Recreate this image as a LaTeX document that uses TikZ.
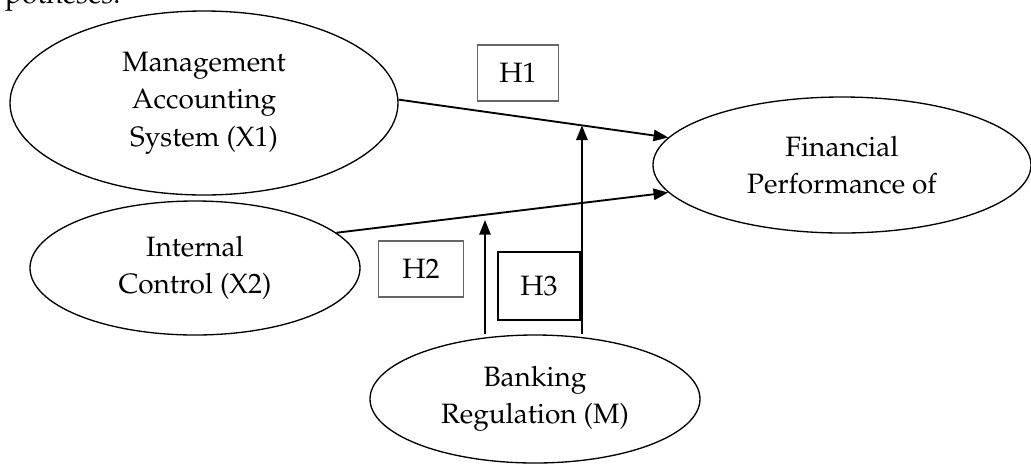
\documentclass[tikz,border=0pt]{standalone}
\usepackage[T1]{fontenc}
\renewcommand{\rmdefault}{ppl}
\usetikzlibrary{shapes.geometric,arrows.meta}

\begin{document}
\begin{tikzpicture}[x=0.75pt,y=-0.75pt,
        every node/.style={font=\fontsize{21}{28}\selectfont},
        var/.style={ellipse,draw,line width=1pt,align=center,inner sep=0pt},
        hyp/.style={draw=black!60,line width=1.1pt,minimum height=42pt,inner sep=0pt},
        link/.style={line width=1.4pt,-{Triangle[length=11pt,width=8.5pt]}}]
        \useasboundingbox (0,0) rectangle (1031,465);
        \node[anchor=base east] (intro) at (125,3) {hypotheses.};
        \node[var,minimum width=291pt,minimum height=138pt] (x1) at (204,103)
            {Management\\Accounting\\System (X1)};
        \node[var,minimum width=247.5pt,minimum height=100.5pt] (x2) at (195,268)
            {Internal\\Control (X2)};
        \node[var,minimum width=283.5pt,minimum height=102pt] (fp) at (842,165)
            {Financial\\Performance of};
        \node[var,minimum width=247.5pt,minimum height=96pt] (mod) at (535,399)
            {Banking\\Regulation (M)};
        \node[hyp,minimum width=60.75pt] (h1) at (518,73) {H1};
        \node[hyp,minimum width=63.75pt] (h2) at (421,269) {H2};
        \node[hyp,draw=black,line width=0.8pt,minimum width=61.5pt,minimum height=51pt] (h3) at (539,286) {H3};
        \path (x1.1) -- (fp.171) coordinate[pos=0.68] (m1);
        \coordinate (m2) at (485,220);
        \draw[link] (x1.1) -- (fp.171);
        \draw[link] (x2.14) -- (fp.189);
        \draw[link] (mod.north -| m1) -- (m1);
        \draw[link] (mod.north -| m2) -- (m2);
\end{tikzpicture}
\end{document}
